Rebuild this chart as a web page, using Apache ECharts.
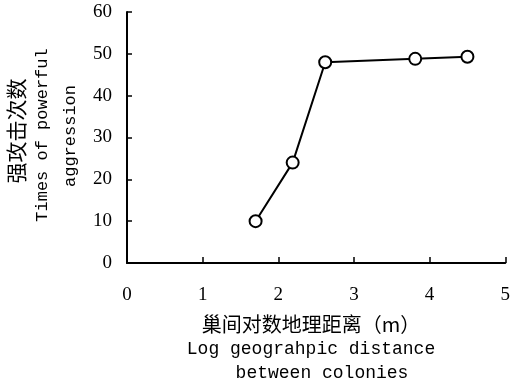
<!DOCTYPE html>
<html><head><meta charset="utf-8">
<script src="https://cdn.jsdelivr.net/npm/echarts@6/dist/echarts.min.js"></script>
<style>html,body{margin:0;padding:0;background:#fff}#c{width:513px;height:390px}</style>
</head><body><div id="c"></div>
<script>
const xValues = [1.70, 2.19, 2.62, 3.81, 4.50];
const yValues = [10.0, 24.0, 48.0, 48.8, 49.3];
const xTicks = [0, 1, 2, 3, 4, 5];
const yTicks = [0, 10, 20, 30, 40, 50, 60];
const xNameLines = ['巢间对数地理距离（m）', 'Log geograhpic distance', 'between colonies'];
const yNameLines = ['强攻击次数', 'Times of powerful', 'aggression'];

const chart = echarts.init(document.getElementById('c'));
const serif = '"Liberation Serif", "DejaVu Serif", serif';
const mono = '"Liberation Mono", "DejaVu Sans Mono", monospace';
const cjk = '"Noto Sans CJK SC", sans-serif';
function txt(text, font, x, y, rot) {
  return {type: 'text', rotation: rot || 0, x: x, y: y,
    style: {text: text, font: font, fill: '#000', textAlign: 'center', textVerticalAlign: 'middle'}};
}
chart.setOption({
  animation: false,
  backgroundColor: '#fff',
  grid: {left: 127, top: 12, right: 6, bottom: 127},
  xAxis: {
    type: 'value', min: xTicks[0], max: xTicks[xTicks.length-1], interval: 1,
    axisLine: {show: true, lineStyle: {color: '#000', width: 2}},
    axisTick: {show: true, inside: true, length: 6, lineStyle: {color: '#000', width: 1.5}},
    axisLabel: {color: '#000', fontSize: 19, fontFamily: serif, margin: 23},
    splitLine: {show: false}
  },
  yAxis: {
    type: 'value', min: yTicks[0], max: yTicks[yTicks.length-1], interval: 10,
    axisLine: {show: true, lineStyle: {color: '#000', width: 2}},
    axisTick: {show: true, inside: true, length: 5, lineStyle: {color: '#000', width: 1.5}},
    axisLabel: {color: '#000', fontSize: 19, fontFamily: serif, margin: 15},
    splitLine: {show: false}
  },
  graphic: [
    txt(xNameLines[0], '20px ' + cjk, 311, 324),
    txt(xNameLines[1], '18px ' + mono, 311, 349),
    txt(xNameLines[2], '18px ' + mono, 322, 373),
    txt(yNameLines[0], '21px ' + cjk, 16, 131, Math.PI/2),
    txt(yNameLines[1], '17px ' + mono, 42, 135, Math.PI/2),
    txt(yNameLines[2], '17px ' + mono, 70, 136, Math.PI/2)
  ],
  series: [{
    type: 'line',
    data: xValues.map((x, i) => [x, yValues[i]]),
    symbol: 'emptyCircle', symbolSize: 12,
    lineStyle: {color: '#000', width: 2},
    itemStyle: {color: '#000', borderColor: '#000', borderWidth: 2.5}
  }]
});
</script></body></html>
